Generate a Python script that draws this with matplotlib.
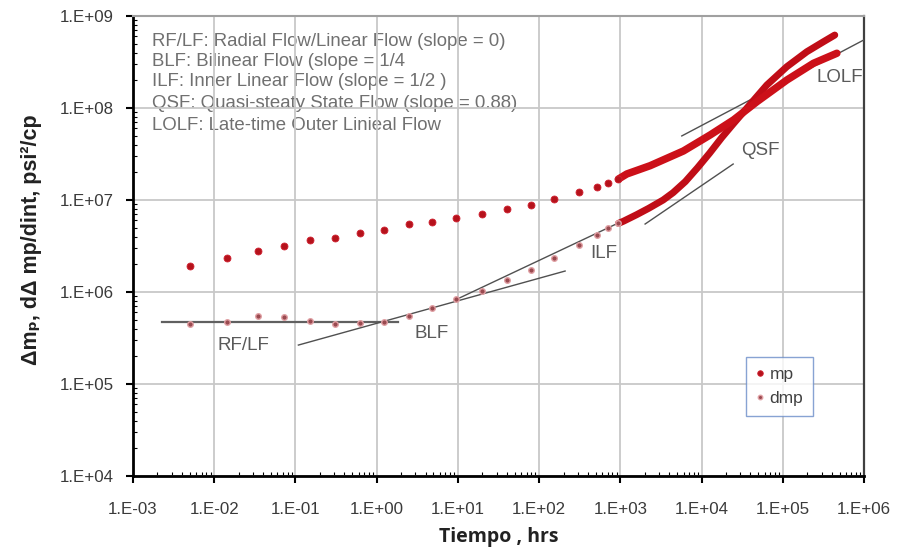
import matplotlib
matplotlib.use("Agg")
import matplotlib.pyplot as plt
import numpy as np

# ---- data -------------------------------------------------------------
# early-time sampled points (hrs)
t_pts = [0.005, 0.0145, 0.0345, 0.072, 0.152, 0.31, 0.62, 1.24, 2.5,
         4.85, 9.6, 19.7, 40, 79.6, 154, 314, 513, 708, 949]
mp_pts = [1.93e6, 2.32e6, 2.79e6, 3.16e6, 3.67e6, 3.9e6, 4.38e6, 4.72e6,
          5.44e6, 5.81e6, 6.33e6, 7.0e6, 7.98e6, 8.84e6, 1.02e7, 1.21e7,
          1.40e7, 1.54e7, 1.69e7]
dmp_pts = [4.46e5, 4.75e5, 5.52e5, 5.31e5, 4.84e5, 4.52e5, 4.57e5, 4.72e5,
           5.52e5, 6.65e5, 8.4e5, 1.03e6, 1.35e6, 1.73e6, 2.32e6, 3.24e6,
           4.17e6, 4.92e6, 5.57e6]

# late-time densely sampled records (log10 hrs, log10 value)
mp_late_logt = [2.977, 3.08, 3.367, 3.777, 4.106, 4.393, 4.681, 5.05, 5.378, 5.666]
mp_late_logv = [7.228, 7.283, 7.373, 7.533, 7.707, 7.870, 8.068, 8.304, 8.486, 8.595]
dmp_late_logt = [2.977, 3.04, 3.2, 3.35, 3.527, 3.65, 3.8, 3.95, 4.1, 4.25,
                 4.393, 4.598, 4.804, 5.05, 5.297, 5.5, 5.64]
dmp_late_logv = [6.746, 6.77, 6.84, 6.91, 7.0, 7.08, 7.2, 7.35, 7.51, 7.68,
                 7.83, 8.04, 8.25, 8.449, 8.612, 8.72, 8.793]

# flow-regime tangent lines: (t0, v0, t1, v1)
tangents = {
    "RF/LF": (2.25e-3, 4.69e5, 1.85, 4.69e5),
    "BLF": (0.1087, 2.65e5, 209, 1.69e6),
    "ILF": (9.25, 8.18e5, 2330, 8.19e6),
    "QSF": (2018, 5.48e6, 24500, 2.46e7),
    "LOLF": (5710, 4.97e7, 1.03e6, 5.58e8),
}
regime_labels = {
    "RF/LF": (0.0226, 2.65e5),
    "BLF": (4.81, 3.58e5),
    "ILF": (631, 2.59e6),
    "QSF": (52700, 3.49e7),
    "LOLF": (5.1e5, 2.17e8),
}
notes = [
    "RF/LF: Radial Flow/Linear Flow (slope = 0)",
    "BLF: Bilinear Flow (slope = 1/4",
    "ILF: Inner Linear Flow (slope = 1/2 )",
    "QSF: Quasi-steaty State Flow (slope = 0.88)",
    "LOLF: Late-time Outer Linieal Flow",
]
x_ticks = [1e-3, 1e-2, 1e-1, 1e0, 1e1, 1e2, 1e3, 1e4, 1e5, 1e6]
x_ticklabels = ["1.E-03", "1.E-02", "1.E-01", "1.E+00", "1.E+01", "1.E+02",
                "1.E+03", "1.E+04", "1.E+05", "1.E+06"]
y_ticks = [1e4, 1e5, 1e6, 1e7, 1e8, 1e9]
y_ticklabels = ["1.E+04", "1.E+05", "1.E+06", "1.E+07", "1.E+08", "1.E+09"]

# ---- figure -----------------------------------------------------------
plt.rcParams["font.family"] = ["Liberation Sans", "DejaVu Sans"]
fig = plt.figure(figsize=(9.02, 5.52), dpi=100)
ax = fig.add_axes([133 / 902, 1 - 476 / 552, 731 / 902, 460 / 552])
ax.set_xscale("log")
ax.set_yscale("log")
ax.set_xlim(1e-3, 1e6)
ax.set_ylim(1e4, 1e9)

ax.set_axisbelow(True)
ax.grid(True, which="major", color="#c8c8c8", linewidth=1.3)

MP_COLOR = "#cc1019"
DMP_COLOR = "#c00d17"

# tangent lines
for key, (t0, v0, t1, v1) in tangents.items():
    col = "#606060" if key == "RF/LF" else "#505050"
    lw = 1.6 if key == "RF/LF" else 1.0
    ax.plot([t0, t1], [v0, v1], color=col, linewidth=lw, zorder=3)

# late-time dense records
ax.plot(10 ** np.array(dmp_late_logt), 10 ** np.array(dmp_late_logv),
        color=DMP_COLOR, linewidth=5.0, solid_capstyle="round",
        solid_joinstyle="round", zorder=4)
ax.plot(10 ** np.array(mp_late_logt), 10 ** np.array(mp_late_logv),
        color=MP_COLOR, linewidth=5.4, solid_capstyle="round",
        solid_joinstyle="round", zorder=5)

# sampled points
ax.plot(t_pts, mp_pts, linestyle="none", marker="o", markersize=5,
        markerfacecolor="#b5121b", markeredgecolor="#d02030",
        markeredgewidth=0.6, zorder=6, label="mp")
ax.plot(t_pts, dmp_pts, linestyle="none", marker="o", markersize=4,
        markerfacecolor="#9a4a50", markeredgecolor="#e0a0a4",
        markeredgewidth=1.0, zorder=6, label="dmp")

# regime labels
for key, (tx, vy) in regime_labels.items():
    ax.text(tx, vy, key, ha="center", va="center", fontsize=13.5,
            color="#5a5a5a", zorder=7)

# description block
line_y = [42, 61, 82, 104, 125]
for txt, py in zip(notes, line_y):
    ax.text((152 - 133) / 731, 1 - (py - 16) / 460, txt, transform=ax.transAxes,
            ha="left", va="center", fontsize=13.4, color="#707070", zorder=0.4)

# axes styling
ax.set_xticks(x_ticks)
ax.set_xticklabels(x_ticklabels)
ax.set_yticks(y_ticks)
ax.set_yticklabels(y_ticklabels)
ax.tick_params(axis="both", which="major", direction="out", length=5,
               width=1.5, labelsize=12.2, labelcolor="#3a3a3a")
ax.tick_params(axis="x", which="major", pad=14)
ax.tick_params(axis="y", which="major", pad=9)
ax.tick_params(axis="both", which="minor", direction="in", length=3,
               width=0.8)
ax.spines["left"].set_linewidth(2)
ax.spines["bottom"].set_linewidth(2)
ax.spines["top"].set_color("#a0a0a0")
ax.spines["top"].set_linewidth(1.5)
ax.spines["right"].set_color("#404040")
ax.spines["right"].set_linewidth(1.6)

leg = ax.legend(loc="upper left", bbox_to_anchor=(746 / 902, 1 - 357 / 552),
                bbox_transform=fig.transFigure, borderaxespad=0,
                frameon=True, fancybox=False, fontsize=12.5, handlelength=0.5,
                handletextpad=0.3, labelspacing=0.55, borderpad=0.55,
                markerscale=0.8)
leg.get_frame().set_edgecolor("#6a8cc8")
leg.get_frame().set_linewidth(1.0)
for t in leg.get_texts():
    t.set_color("#404040")

fig.text(31 / 902, 1 - 240 / 552, "Δmₚ, dΔ mp/dint, psi²/cp", rotation=90,
         ha="center", va="center", fontsize=15.5, fontweight="bold",
         color="#222222", family=["Liberation Sans", "DejaVu Sans"])
fig.text(499 / 902, 1 - 537 / 552, "Tiempo , hrs", ha="center", va="center",
         fontsize=14, fontweight="bold", color="#222222",
         family=["Open Sans", "DejaVu Sans"])

fig.savefig("out.png", dpi=100)
